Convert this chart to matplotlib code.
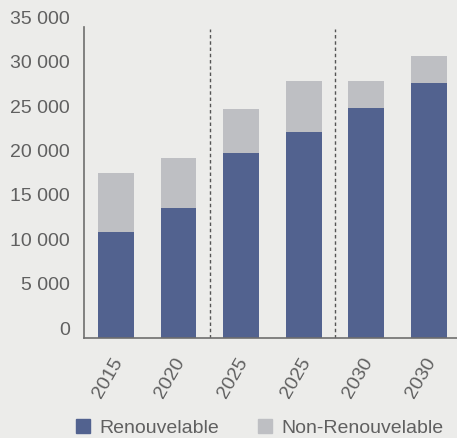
import matplotlib.pyplot as plt
import matplotlib.transforms as mtransforms
from matplotlib.patches import Patch

years = ['2015', '2020', '2025', '2025', '2030', '2030']
renouvelable = [11900, 14600, 20800, 23200, 25900, 28700]
non_renouvelable = [6700, 5700, 5000, 5700, 3000, 3000]
y_ticks = [0, 5000, 10000, 15000, 20000, 25000, 30000, 35000]
y_labels = ['0', '5 000', '10 000', '15 000', '20 000', '25 000', '30 000', '35 000']
separators = [1.5, 3.5]

blue = '#52628f'
grey = '#bebfc3'
bg = '#ececea'
txt = '#606060'

plt.rcParams['font.family'] = ['Liberation Sans', 'DejaVu Sans']

W, H = 457, 438
fig = plt.figure(figsize=(W / 100, H / 100), dpi=100, facecolor=bg)
ax = fig.add_axes([84 / W, (H - 338) / H, (W - 84) / W, 311 / H], facecolor=bg)

x = range(len(years))
ax.bar(x, renouvelable, width=0.575, color=blue, zorder=2)
ax.bar(x, non_renouvelable, width=0.575, bottom=renouvelable, color=grey, zorder=2)

for s in separators:
    ax.axvline(s, ymin=0, ymax=0.993, color='#555555', lw=1, linestyle=(0, (2.5, 2)), zorder=1)

ax.set_ylim(0, 35000)
ax.set_xlim(-0.51, 5.45)
ax.set_yticks(y_ticks)
ax.set_yticklabels(y_labels, fontsize=14, color=txt)
ax.set_xticks(list(x))
ax.set_xticklabels(years, fontsize=14, color=txt, rotation=60, ha='right',
                   rotation_mode='anchor', va='center')
ax.tick_params(axis='y', length=0, pad=10)
ax.tick_params(axis='x', length=0, pad=15)

# lift the value labels a little above their gridline
lift = mtransforms.ScaledTranslation(0, 7 / 72, fig.dpi_scale_trans)
for lab in ax.get_yticklabels():
    lab.set_transform(lab.get_transform() + lift)
shift = mtransforms.ScaledTranslation(2 / 72, 0, fig.dpi_scale_trans)
for lab in ax.get_xticklabels():
    lab.set_transform(lab.get_transform() + shift)

for side in ['top', 'right']:
    ax.spines[side].set_visible(False)
for side in ['left', 'bottom']:
    ax.spines[side].set_color('#6e6e6e')
    ax.spines[side].set_linewidth(1.2)

handles = [Patch(color=blue, label='Renouvelable'),
           Patch(color=grey, label='Non-Renouvelable')]
fig.legend(handles=handles, loc='center left', bbox_to_anchor=(58 / W, (H - 428) / H),
           ncol=2, frameon=False, fontsize=14, labelcolor=txt,
           handlelength=0.72, handleheight=0.72, handletextpad=0.5, columnspacing=2.0)

fig.savefig('out.png', dpi=100, facecolor=bg)
